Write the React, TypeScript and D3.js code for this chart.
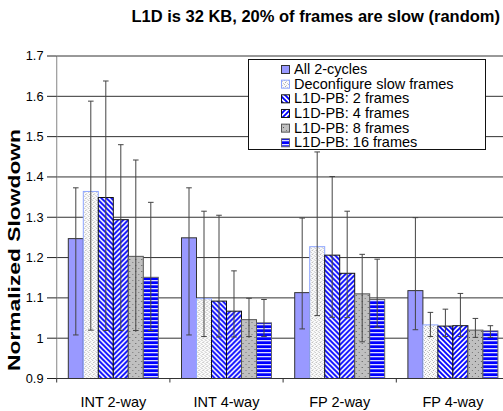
import React from "react";
import * as d3 from "d3";

const categories = ["INT 2-way", "INT 4-way", "FP 2-way", "FP 4-way"];
const seriesNames = [
  "All 2-cycles",
  "Deconfigure slow frames",
  "L1D-PB: 2 frames",
  "L1D-PB: 4 frames",
  "L1D-PB: 8 frames",
  "L1D-PB: 16 frames",
];

// mean normalized slowdown per benchmark group
const all2Cycles = [1.247, 1.249, 1.113, 1.118];
const deconfigure = [1.364, 1.098, 1.227, 1.033];
const pb2 = [1.349, 1.092, 1.206, 1.03];
const pb4 = [1.294, 1.067, 1.161, 1.031];
const pb8 = [1.203, 1.046, 1.11, 1.02];
const pb16 = [1.151, 1.038, 1.096, 1.018];

// error bar upper ends
const all2CyclesHi = [1.373, 1.373, 1.298, 1.299];
const deconfigureHi = [1.588, 1.315, 1.462, 1.064];
const pb2Hi = [1.638, 1.305, 1.401, 1.072];
const pb4Hi = [1.48, 1.167, 1.315, 1.111];
const pb8Hi = [1.442, 1.099, 1.208, 1.049];
const pb16Hi = [1.337, 1.096, 1.196, 1.031];

// error bar lower ends
const all2CyclesLo = [1.008, 1.008, 1.023, 1.021];
const deconfigureLo = [1.02, 1.004, 1.056, 1.004];
const pb2Lo = [1.019, 1.003, 1.052, 1.004];
const pb4Lo = [1.019, 1.003, 1.051, 1.004];
const pb8Lo = [1.019, 1.004, 0.991, 1.002];
const pb16Lo = [1.019, 1.004, 1.027, 1.002];

const yTicks = [0.9, 1, 1.1, 1.2, 1.3, 1.4, 1.5, 1.6, 1.7];

const seriesValues = [all2Cycles, deconfigure, pb2, pb4, pb8, pb16];
const seriesHi = [all2CyclesHi, deconfigureHi, pb2Hi, pb4Hi, pb8Hi, pb16Hi];
const seriesLo = [all2CyclesLo, deconfigureLo, pb2Lo, pb4Lo, pb8Lo, pb16Lo];

const fills = [
  "#9999ff",
  "url(#pDeconf)",
  "url(#pBack)",
  "url(#pFwd)",
  "url(#pDots)",
  "url(#pHoriz)",
];
const strokes = ["#333", "#8ea6ff", "#111", "#111", "#555", "#666"];

const FONT = "'Liberation Sans', Arial, Helvetica, sans-serif";

const W = 503;
const H = 411;
const left = 56.7;
const right = 509.5;
const top = 56;
const bottom = 378.5;

export default function App() {
  const y = d3.scaleLinear().domain([0.9, 1.7]).range([bottom, top]);
  const x0 = d3
    .scaleBand<string>()
    .domain(categories)
    .range([left, right])
    .paddingInner(0.205)
    .paddingOuter(0.1025);
  const x1 = d3
    .scaleBand<string>()
    .domain(seriesNames)
    .range([0, x0.bandwidth()]);
  const step = x0.step();
  const capHalf = 2.8;

  const legendX = 248.5;
  const legendY = 59.5;
  const rowH = 14.66;

  return (
    <>
      <style>{`body{margin:0}`}</style>
      <svg width={W} height={H} style={{ display: "block" }} fontFamily={FONT}>
        <defs>
          <pattern id="pDeconf" patternUnits="userSpaceOnUse" width="4" height="4">
            <rect width="4" height="4" fill="#fbfbfb" />
            <rect x="0" y="0" width="1" height="1" fill="#bbb" />
            <rect x="2" y="1" width="1" height="1" fill="#ccc" />
            <rect x="1" y="2" width="1" height="1" fill="#aaa" />
            <rect x="3" y="3" width="1" height="1" fill="#ccc" />
          </pattern>
          <pattern id="pBack" patternUnits="userSpaceOnUse" width="5" height="5">
            <rect width="5" height="5" fill="#fff" />
            <path
              d="M-1,-1 L6,6 M-1,4 L1,6 M4,-1 L6,1"
              stroke="#0000ff"
              strokeWidth="1.9"
            />
          </pattern>
          <pattern id="pFwd" patternUnits="userSpaceOnUse" width="5" height="5">
            <rect width="5" height="5" fill="#fff" />
            <path
              d="M-1,6 L6,-1 M-1,1 L1,-1 M4,6 L6,4"
              stroke="#0000ff"
              strokeWidth="1.9"
            />
          </pattern>
          <pattern id="pDots" patternUnits="userSpaceOnUse" width="6" height="6">
            <rect width="6" height="6" fill="#c0c0c0" />
            <rect x="1" y="1" width="1" height="1" fill="#555" />
            <rect x="4" y="4" width="1" height="1" fill="#777" />
          </pattern>
          <pattern id="pHoriz" patternUnits="userSpaceOnUse" width="4" height="4">
            <rect width="4" height="4" fill="#0000ff" />
            <rect y="0" width="4" height="1.3" fill="#dcdcff" />
          </pattern>
        </defs>

        {/* title */}
        <text
          x={500}
          y={22}
          textAnchor="end"
          fontSize={16.5}
          fontWeight="bold"
          fill="#000"
        >
          L1D is 32 KB, 20% of frames are slow (random)
        </text>

        {/* horizontal gridlines */}
        {yTicks.slice(1).map((t) => (
          <line
            key={t}
            x1={left}
            x2={W}
            y1={y(t)}
            y2={y(t)}
            stroke="#333"
            strokeWidth={1}
          />
        ))}

        {/* bars */}
        {categories.map((c, ci) => (
          <g key={c} transform={`translate(${x0(c)},0)`}>
            {seriesNames.map((s, si) => {
              const v = seriesValues[si][ci];
              return (
                <rect
                  key={s}
                  x={x1(s)}
                  y={y(v)}
                  width={x1.bandwidth()}
                  height={y(0.9) - y(v)}
                  fill={fills[si]}
                  stroke={strokes[si]}
                  strokeWidth={1}
                />
              );
            })}
          </g>
        ))}

        {/* error bars */}
        {categories.map((c, ci) => (
          <g key={c} transform={`translate(${x0(c)},0)`}>
            {seriesNames.map((s, si) => {
              const cx = (x1(s) as number) + x1.bandwidth() / 2;
              const hi = y(seriesHi[si][ci]);
              const lo = y(seriesLo[si][ci]);
              return (
                <g key={s} stroke="#444" strokeWidth={1}>
                  <line x1={cx} x2={cx} y1={hi} y2={lo} />
                  <line x1={cx - capHalf} x2={cx + capHalf} y1={hi} y2={hi} />
                  <line x1={cx - capHalf} x2={cx + capHalf} y1={lo} y2={lo} />
                </g>
              );
            })}
          </g>
        ))}

        {/* y axis */}
        <line x1={left} x2={left} y1={top} y2={bottom} stroke="#999" strokeWidth={1.2} />
        {yTicks.map((t) => (
          <g key={t}>
            <line x1={47} x2={left} y1={y(t)} y2={y(t)} stroke="#222" strokeWidth={1} />
            <text
              x={43.5}
              y={y(t)}
              dy="0.35em"
              textAnchor="end"
              fontSize={12.8}
              fill="#000"
            >
              {t === 1 ? "1" : t.toFixed(1)}
            </text>
          </g>
        ))}

        {/* x axis */}
        <line x1={left} x2={W} y1={bottom} y2={bottom} stroke="#333" strokeWidth={1} />
        {categories.map((c, ci) => (
          <line
            key={c}
            x1={left + ci * step}
            x2={left + ci * step}
            y1={bottom}
            y2={bottom + 4}
            stroke="#333"
          />
        ))}
        {categories.map((c) => (
          <text
            key={c}
            x={(x0(c) as number) + x0.bandwidth() / 2}
            y={406.5}
            textAnchor="middle"
            fontSize={14.5}
            fill="#000"
          >
            {c}
          </text>
        ))}

        {/* y axis title */}
        <text
          transform={`translate(19.5,250) rotate(-90)`}
          textAnchor="middle"
          fontSize={16.5}
          fontWeight="bold"
          fill="#000"
          textLength={242}
          lengthAdjust="spacingAndGlyphs"
        >
          Normalized Slowdown
        </text>

        {/* legend */}
        <rect
          x={legendX}
          y={legendY}
          width={237}
          height={90}
          fill="#fff"
          stroke="#111"
          strokeWidth={1}
        />
        {seriesNames.map((s, si) => {
          const base = 74 + si * rowH;
          return (
            <g key={s}>
              <rect
                x={281.5}
                y={base - 8.5}
                width={8}
                height={8}
                fill={fills[si]}
                stroke={si === 0 ? "#333" : strokes[si]}
                strokeWidth={1}
              />
              <text x={294} y={base} fontSize={14.5} fill="#000">
                {s}
              </text>
            </g>
          );
        })}
      </svg>
    </>
  );
}
